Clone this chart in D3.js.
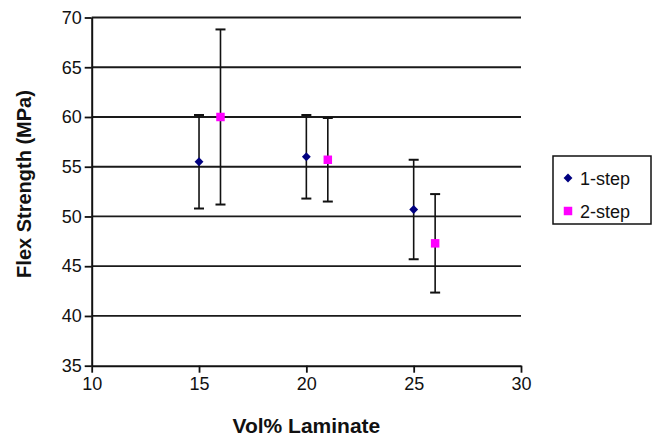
<!DOCTYPE html>
<html>
<head>
<meta charset="utf-8">
<script src="https://cdn.jsdelivr.net/npm/d3@7"></script>
<style>
  body { margin: 0; background: #fff; }
  svg { display: block; font-family: "Liberation Sans", Arial, sans-serif; }
</style>
</head>
<body>
<svg id="chart" width="655" height="438"></svg>
<script>
// valeurs
const seriesNames = ["1-step", "2-step"];
const xOneStep = [15, 20, 25];
const yOneStep = [55.5, 56.0, 50.7];
const errOneStep = [4.7, 4.2, 5.0];
const xTwoStep = [16, 21, 26];
const yTwoStep = [60.0, 55.7, 47.3];
const errTwoStep = [8.8, 4.2, 4.95];
const xTicks = [10, 15, 20, 25, 30];
const yTicks = [35, 40, 45, 50, 55, 60, 65, 70];

const svg = d3.select("#chart");
const marge = { left: 91.7, right: 521, top: 17.5, bottom: 365.7 };

const x = d3.scaleLinear().domain([10, 30]).range([marge.left, marge.right]);
const y = d3.scaleLinear().domain([35, 70]).range([marge.bottom, marge.top]);

// lignes de grille
svg.append("g")
    .selectAll("line")
    .data(yTicks.filter(t => t > 35))
    .enter()
    .append("line")
    .attr("x1", marge.left)
    .attr("x2", marge.right)
    .attr("y1", d => y(d))
    .attr("y2", d => y(d))
    .style("stroke", "#1a1a1a")
    .style("stroke-width", 1.8);

// axes
const axeY = svg.append("g")
    .attr("transform", `translate(${marge.left},0)`)
    .call(d3.axisLeft(y).tickValues(yTicks).tickSize(7).tickPadding(3).tickSizeOuter(0));
const axeX = svg.append("g")
    .attr("transform", `translate(0,${marge.bottom})`)
    .call(d3.axisBottom(x).tickValues(xTicks).tickSize(7).tickPadding(5).tickSizeOuter(0));

[axeY, axeX].forEach(a => {
    a.select(".domain").style("stroke", "#111").style("stroke-width", 2);
    a.selectAll(".tick line").style("stroke", "#111").style("stroke-width", 1.8);
    a.selectAll(".tick text")
        .style("font-family", "Liberation Sans, Arial, sans-serif")
        .style("font-size", "18px")
        .style("fill", "#111");
});

// titres
svg.append("text")
    .attr("x", (marge.left + marge.right) / 2)
    .attr("y", 433)
    .attr("text-anchor", "middle")
    .style("font-size", "21px")
    .style("font-weight", "bold")
    .style("fill", "#111")
    .text("Vol% Laminate");

svg.append("text")
    .attr("transform", "translate(31,184) rotate(-90)")
    .attr("text-anchor", "middle")
    .style("font-size", "20px")
    .style("font-weight", "bold")
    .style("fill", "#111")
    .text("Flex Strength (MPa)");

// barres d'erreur
function barresErreur(xs, ys, errs) {
    const pts = xs.map((v, i) => ({ x: v, y: ys[i], e: errs[i] }));
    const g = svg.append("g").style("stroke", "#111").style("stroke-width", 1.6);
    g.selectAll(".vert").data(pts).enter().append("line")
        .attr("x1", d => x(d.x)).attr("x2", d => x(d.x))
        .attr("y1", d => y(d.y + d.e)).attr("y2", d => y(d.y - d.e));
    g.selectAll(".haut").data(pts).enter().append("line")
        .attr("x1", d => x(d.x) - 5).attr("x2", d => x(d.x) + 5)
        .attr("y1", d => y(d.y + d.e)).attr("y2", d => y(d.y + d.e))
        .style("stroke-width", 2);
    g.selectAll(".bas").data(pts).enter().append("line")
        .attr("x1", d => x(d.x) - 5).attr("x2", d => x(d.x) + 5)
        .attr("y1", d => y(d.y - d.e)).attr("y2", d => y(d.y - d.e))
        .style("stroke-width", 2);
}
barresErreur(xOneStep, yOneStep, errOneStep);
barresErreur(xTwoStep, yTwoStep, errTwoStep);

const losange = d3.symbol().type(d3.symbolDiamond2).size(50);
const carre = d3.symbol().type(d3.symbolSquare).size(72);

svg.append("g").selectAll("path")
    .data(xOneStep.map((v, i) => ({ x: v, y: yOneStep[i] })))
    .enter().append("path")
    .attr("d", losange)
    .attr("transform", d => `translate(${x(d.x)},${y(d.y)})`)
    .style("fill", "#000080");

svg.append("g").selectAll("path")
    .data(xTwoStep.map((v, i) => ({ x: v, y: yTwoStep[i] })))
    .enter().append("path")
    .attr("d", carre)
    .attr("transform", d => `translate(${x(d.x)},${y(d.y)})`)
    .style("fill", "#ff00ff");

// légende
const leg = svg.append("g");
leg.append("rect")
    .attr("x", 553).attr("y", 156)
    .attr("width", 98).attr("height", 68)
    .style("fill", "#fff")
    .style("stroke", "#111")
    .style("stroke-width", 1.5);

const symbolesLeg = [losange, carre];
const couleursLeg = ["#000080", "#ff00ff"];
seriesNames.forEach((nom, i) => {
    const yy = 178 + i * 33;
    leg.append("path")
        .attr("d", symbolesLeg[i])
        .attr("transform", `translate(568,${yy})`)
        .style("fill", couleursLeg[i]);
    leg.append("text")
        .attr("x", 580)
        .attr("y", yy + 6.5)
        .style("font-size", "18px")
        .style("fill", "#111")
        .text(nom);
});
</script>
</body>
</html>
